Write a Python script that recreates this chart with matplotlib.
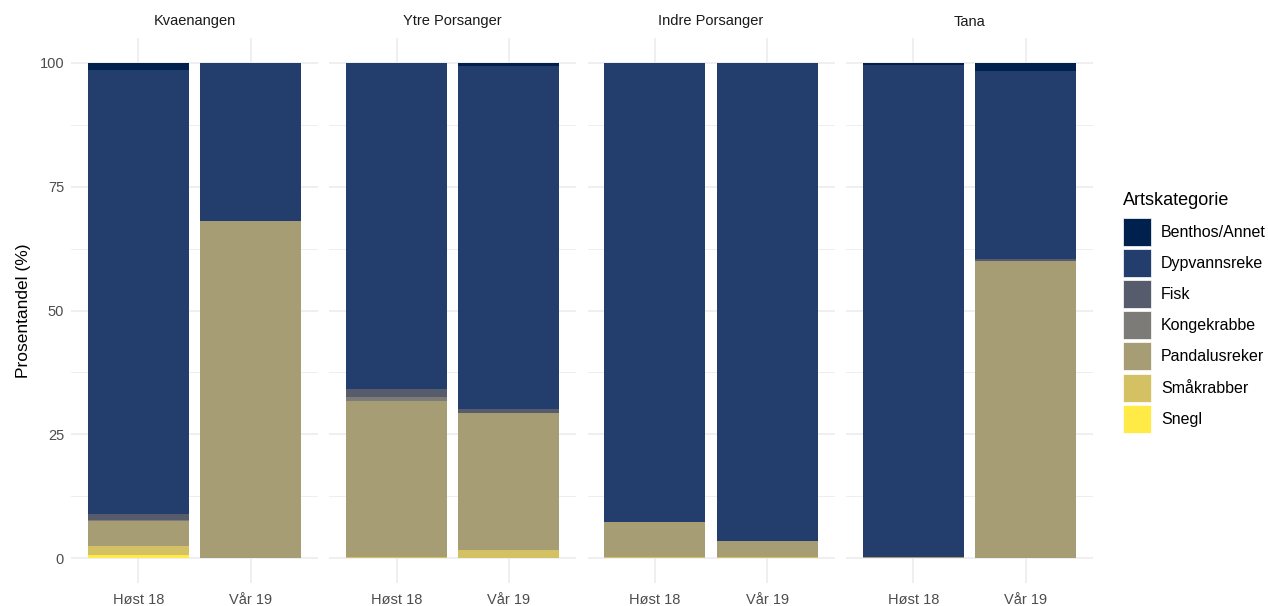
import numpy as np
import matplotlib
matplotlib.use("Agg")
import matplotlib.pyplot as plt
from matplotlib.patches import Patch

plt.rcParams['font.family'] = ['Liberation Sans', 'DejaVu Sans']

# Data (percent), bars ordered site by site: Høst 18, Vår 19
sites = ["Kvaenangen", "Ytre Porsanger", "Indre Porsanger", "Tana"]
seasons = ["Høst 18", "Vår 19"]
categories = ["Benthos/Annet", "Dypvannsreke", "Fisk", "Kongekrabbe",
              "Pandalusreker", "Småkrabber", "Snegl"]
benthos      = [1.4, 0.0, 0.0, 0.6, 0.0, 0.0, 0.5, 1.6]
dypvannsreke = [89.7, 32.0, 65.9, 69.3, 92.7, 96.6, 99.3, 38.1]
fisk         = [1.1, 0.0, 1.5, 0.7, 0.0, 0.0, 0.0, 0.3]
kongekrabbe  = [0.3, 0.0, 0.9, 0.0, 0.0, 0.0, 0.0, 0.0]
pandalus     = [5.1, 68.0, 31.4, 27.8, 7.1, 3.1, 0.2, 60.0]
smaakrabber  = [1.8, 0.0, 0.3, 1.6, 0.2, 0.3, 0.0, 0.0]
snegl        = [0.6, 0.0, 0.0, 0.0, 0.0, 0.0, 0.0, 0.0]

colors = ["#00204D", "#233E6C", "#575C6D", "#7C7B78", "#A69D75", "#D3C164", "#FFEA46"]
series = [benthos, dypvannsreke, fisk, kongekrabbe, pandalus, smaakrabber, snegl]

W, H = 1268, 606
fig = plt.figure(figsize=(W / 100, H / 100), dpi=100)

grid_col = "#EBEBEB"
panel_w = 247
left0 = 71
step = 258.3
top_px, bot_px = 38, 583

for p, site in enumerate(sites):
    x0 = left0 + p * step
    ax = fig.add_axes([x0 / W, 1 - bot_px / H, panel_w / W, (bot_px - top_px) / H])
    ax.set_facecolor("white")
    xs = np.arange(1, 3)
    bottom = np.zeros(2)
    # stack from the last category upward (ggplot order)
    for vals, col in zip(series[::-1], colors[::-1]):
        v = np.array(vals[2 * p:2 * p + 2])
        ax.bar(xs, v, width=0.9, bottom=bottom, color=col, zorder=3, linewidth=0)
        bottom += v
    ax.set_xlim(0.4, 2.6)
    ax.set_ylim(-5, 105)
    ax.set_yticks([0, 25, 50, 75, 100])
    ax.set_yticks([12.5, 37.5, 62.5, 87.5], minor=True)
    ax.set_xticks(xs)
    ax.set_xticklabels(seasons, fontsize=10.5, color="#4D4D4D")
    ax.grid(True, which="major", color=grid_col, linewidth=1.1, zorder=0)
    ax.grid(True, which="minor", axis="y", color=grid_col, linewidth=0.6, zorder=0)
    ax.tick_params(which="both", length=0)
    ax.tick_params(axis="x", pad=7)
    ax.tick_params(axis="y", labelsize=10.5, labelcolor="#4D4D4D", pad=5)
    for s in ax.spines.values():
        s.set_visible(False)
    if p > 0:
        ax.set_yticklabels([])
    else:
        ax.set_ylabel("Prosentandel (%)", fontsize=12.5, color="black", labelpad=6)
    ax.set_title(site, fontsize=10.5, color="#1A1A1A", pad=9)

handles = [Patch(facecolor=c, edgecolor="white", linewidth=0.5, label=l)
           for c, l in zip(colors, categories)]
leg = fig.legend(handles=handles, title="Artskategorie", loc="upper left",
                 bbox_to_anchor=(1117 / W, 1 - 186 / H), frameon=False,
                 fontsize=11.5, title_fontsize=13, handlelength=1.75, handleheight=2.32,
                 handletextpad=0.62, labelspacing=0.2, borderaxespad=0)
leg._legend_box.align = "left"
leg._legend_box.sep = 6

fig.savefig("out.png", dpi=100)
